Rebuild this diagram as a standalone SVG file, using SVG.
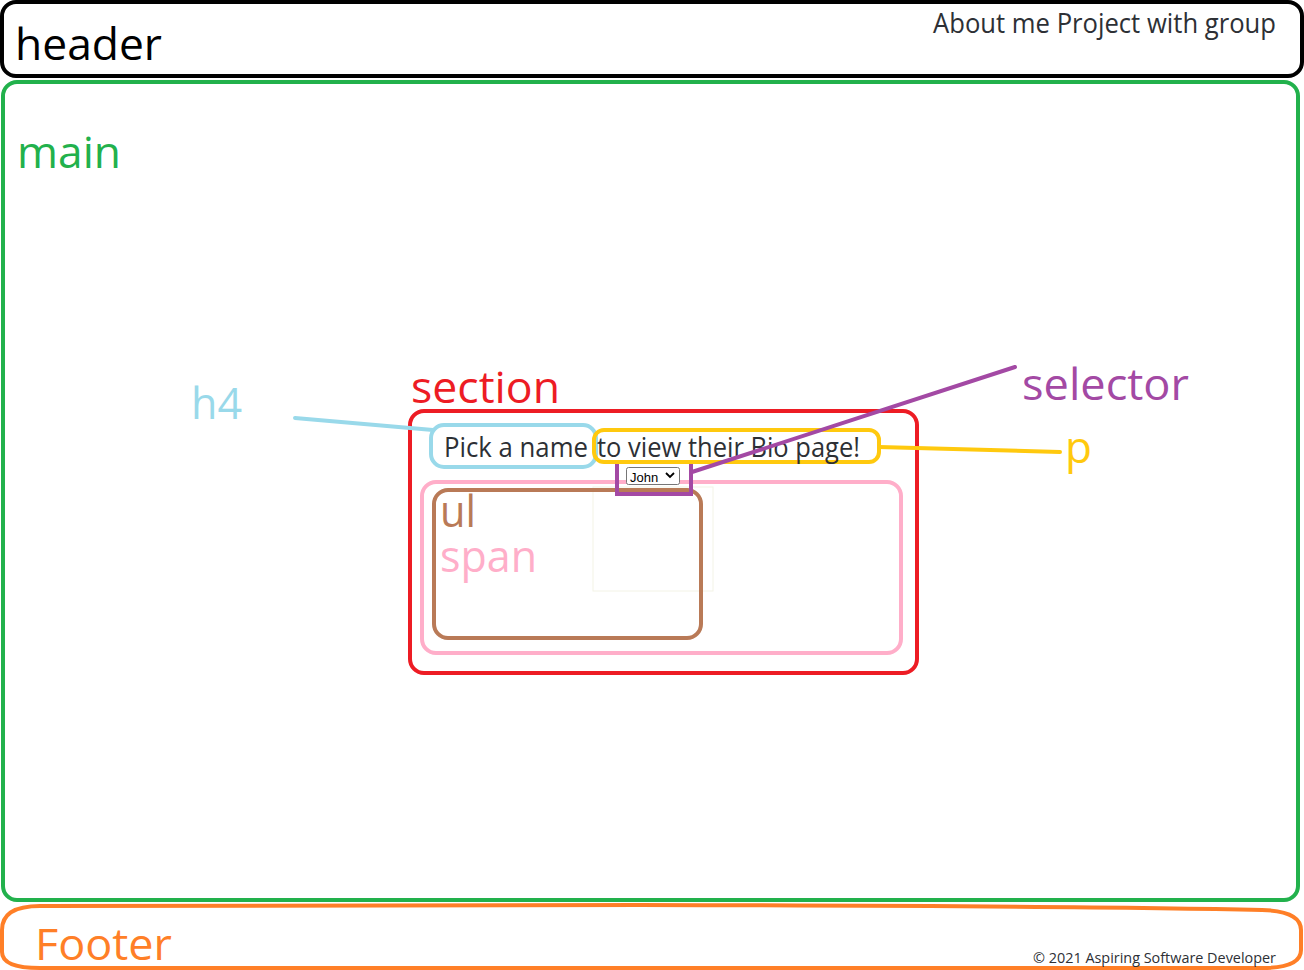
<svg xmlns="http://www.w3.org/2000/svg" width="1304" height="970" viewBox="0 0 1304 970">
<style>
.box{fill:none;stroke-width:4}
.lbl{font-family:"Open Sans","Noto Sans",sans-serif;font-size:44px}
.page{font-family:"Open Sans","Noto Sans",sans-serif;fill:#2d3035}
.ln{fill:none;stroke-width:4;stroke-linecap:round}
</style>
<rect width="1304" height="970" fill="#ffffff"/>
<g id="header">
<rect class="box" x="2" y="2" width="1300" height="74" rx="14" stroke="#000000"/>
<text class="lbl" x="15" y="60" fill="#000000" textLength="147" lengthAdjust="spacingAndGlyphs">header</text>
<text class="page" x="933" y="33" font-size="27" textLength="343" lengthAdjust="spacingAndGlyphs">About me Project with group</text>
</g>
<g id="main">
<rect class="box" x="3" y="82" width="1295" height="818" rx="14" stroke="#22b14c"/>
<text class="lbl" x="17" y="168" fill="#22b14c" textLength="104" lengthAdjust="spacingAndGlyphs">main</text>
</g>
<g id="footer">
<path class="box" d="M40 906 Q2 906 2 930 L2 952 Q2 968 40 968 L1262 968 Q1301 968 1301 950 L1301 930 Q1301 911 1262 910 Q1100 906 640 905 Z" stroke="#ff7f27"/>
<text class="lbl" x="35" y="960" fill="#ff7f27" textLength="137" lengthAdjust="spacingAndGlyphs">Footer</text>
<text class="page" x="1033" y="963" font-size="15" fill="#555555" textLength="243" lengthAdjust="spacingAndGlyphs">© 2021 Aspiring Software Developer</text>
</g>
<g id="section">
<rect class="box" x="410" y="411" width="507" height="262" rx="14" stroke="#ed1c24"/>
<text class="lbl" x="411" y="403" fill="#ed1c24" textLength="149" lengthAdjust="spacingAndGlyphs">section</text>
</g>
<g id="faint">
<rect x="593" y="487" width="120" height="104" fill="none" stroke="#f3f3e6" stroke-width="1"/>
</g>
<g id="span">
<rect class="box" x="422" y="482" width="479" height="171" rx="14" stroke="#ffaec9"/>
<text class="lbl" x="440" y="572" fill="#ffaec9" textLength="97" lengthAdjust="spacingAndGlyphs">span</text>
</g>
<g id="ul">
<rect class="box" x="434" y="490" width="267" height="148" rx="14" stroke="#b97a57"/>
<text class="lbl" x="440" y="527" fill="#b97a57" textLength="36" lengthAdjust="spacingAndGlyphs">ul</text>
</g>
<g id="selector">
<path class="box" d="M617 460 L617 494 L691 494 L691 460" stroke="#a349a4" stroke-width="5"/>
<rect x="626.5" y="467.5" width="53" height="17" rx="2" fill="#ffffff" stroke="#767676" stroke-width="1"/>
<text x="630" y="482" font-family="Liberation Sans, Arial, sans-serif" font-size="13" fill="#000000">John</text>
<polyline points="666,473 670,477 674,473" fill="none" stroke="#000000" stroke-width="1.8"/>
<text class="lbl" x="1022" y="400" fill="#a349a4" textLength="167" lengthAdjust="spacingAndGlyphs">selector</text>
</g>
<g id="h4">
<rect class="box" x="431" y="425" width="165" height="42" rx="13" stroke="#99d9ea"/>
<text class="page" x="444" y="457" font-size="27" textLength="144" lengthAdjust="spacingAndGlyphs">Pick a name</text>
<text class="lbl" x="191" y="419" fill="#99d9ea" textLength="51" lengthAdjust="spacingAndGlyphs">h4</text>
</g>
<g id="p">
<rect class="box" x="594" y="430" width="285" height="32" rx="10" stroke="#ffc90e"/>
<text class="page" x="597" y="457" font-size="27" textLength="263" lengthAdjust="spacingAndGlyphs">to view their Bio page!</text>
<text class="lbl" x="1065" y="463" fill="#ffc90e" textLength="27" lengthAdjust="spacingAndGlyphs">p</text>
</g>
<g id="connectors">
<path class="ln" d="M295 418 L433 430" stroke="#99d9ea"/>
<path class="ln" d="M1015 367 L692 472" stroke="#a349a4"/>
<path class="ln" d="M879 447 L1060 452" stroke="#ffc90e"/>
</g>
</svg>
